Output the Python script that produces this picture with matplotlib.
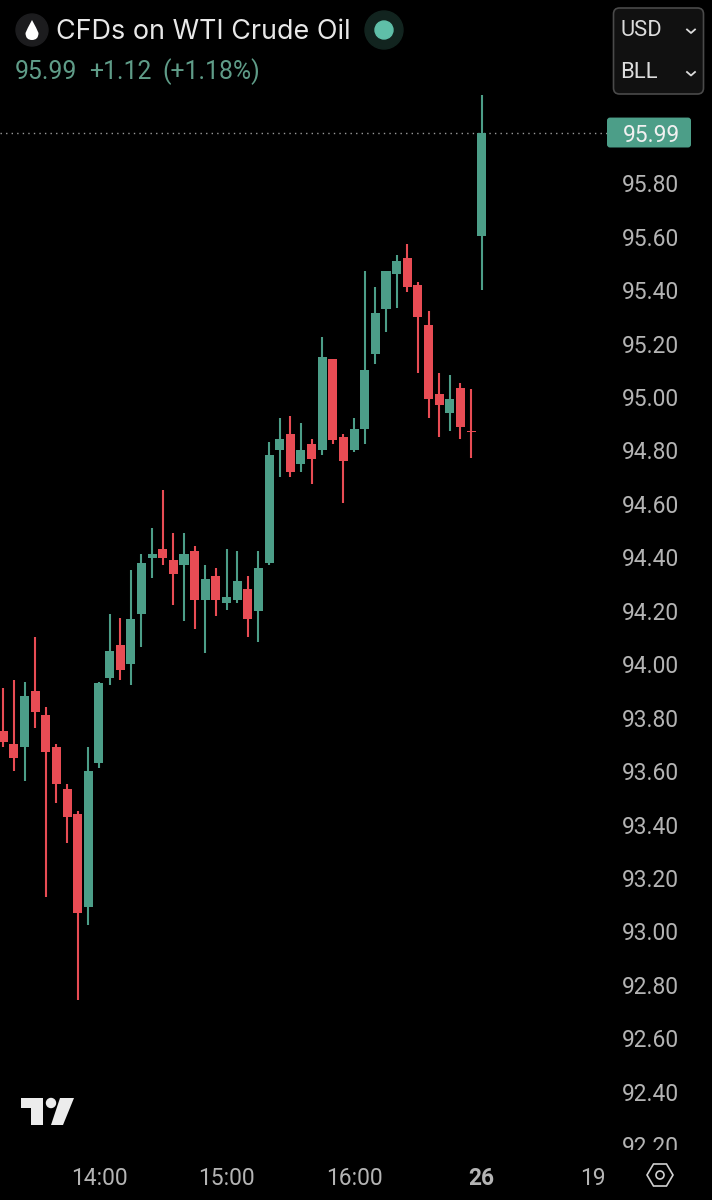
import matplotlib
matplotlib.use("Agg")
import matplotlib.pyplot as plt
from matplotlib.patches import Circle, FancyBboxPatch, Polygon, PathPatch
from matplotlib.path import Path
from matplotlib.transforms import Bbox, blended_transform_factory

# ===============================
# DATA
# ===============================

opens = [93.750, 93.700, 93.690, 93.901, 93.810, 93.691, 93.532, 93.441, 93.090, 93.629,
         93.949, 94.072, 94.000, 94.189, 94.399, 94.431, 94.391, 94.370, 94.423, 94.240,
         94.331, 94.229, 94.240, 94.281, 94.200, 94.380, 94.801, 94.862, 94.749, 94.823,
         94.801, 95.142, 94.850, 94.802, 94.880, 95.161, 95.330, 95.459, 95.521, 95.420,
         95.269, 95.011, 94.940, 95.033, 94.874, 95.603]
highs = [93.910, 93.940, 93.932, 94.103, 93.841, 93.700, 93.552, 93.451, 93.691, 93.932,
         94.188, 94.173, 94.353, 94.412, 94.511, 94.652, 94.490, 94.490, 94.442, 94.371,
         94.359, 94.431, 94.424, 94.330, 94.424, 94.830, 94.920, 94.929, 94.902, 94.842,
         95.223, 95.142, 94.860, 94.923, 95.473, 95.413, 95.472, 95.531, 95.571, 95.432,
         95.321, 95.091, 95.081, 95.051, 95.031, 96.130]
lows = [93.691, 93.600, 93.562, 93.762, 93.130, 93.482, 93.332, 92.743, 93.023, 93.613,
        93.922, 93.941, 93.922, 94.063, 94.321, 94.372, 94.222, 94.162, 94.131, 94.041,
        94.182, 94.203, 94.230, 94.103, 94.082, 94.372, 94.702, 94.702, 94.720, 94.673,
        94.783, 94.824, 94.602, 94.793, 94.824, 95.124, 95.243, 95.334, 95.393, 95.091,
        94.923, 94.851, 94.872, 94.843, 94.772, 95.400]
closes = [93.709, 93.650, 93.881, 93.820, 93.670, 93.552, 93.429, 93.069, 93.600, 93.931,
          94.051, 93.978, 94.170, 94.380, 94.412, 94.399, 94.339, 94.411, 94.240, 94.320,
          94.240, 94.253, 94.311, 94.169, 94.360, 94.782, 94.842, 94.719, 94.802, 94.769,
          95.151, 94.840, 94.760, 94.881, 95.101, 95.313, 95.472, 95.510, 95.411, 95.299,
          94.991, 94.971, 94.991, 94.889, 94.868, 95.990]

price_ticks = [92.2, 92.4, 92.6, 92.8, 93.0, 93.2, 93.4, 93.6, 93.8, 94.0,
               94.2, 94.4, 94.6, 94.8, 95.0, 95.2, 95.4, 95.6, 95.8]
time_ticks = [9, 21, 33, 45, 55.5]
time_labels = ["14:00", "15:00", "16:00", "26", "19"]

last_price = 95.99
title_text = "CFDs on WTI Crude Oil"
change_price = "95.99"
change_abs = "+1.12"
change_pct = "(+1.18%)"

# ===============================
# STYLE
# ===============================

GREEN = "#4c9e88"
RED = "#e84c54"
TICK_COLOR = "#b4b4b4"
WIDTH, HEIGHT = 712, 1200
CHART_RIGHT, CHART_BOTTOM = 607, 1150

# Roboto has equal width digits, like the app font
plt.rcParams["font.family"] = ["Roboto", "DejaVu Sans"]

fig = plt.figure(figsize=(WIDTH / 100, HEIGHT / 100), dpi=100, facecolor="black")

# ===============================
# CANDLES
# ===============================

ax = fig.add_axes([0, (HEIGHT - CHART_BOTTOM) / HEIGHT, CHART_RIGHT / WIDTH, CHART_BOTTOM / HEIGHT])
ax.set_facecolor("black")
ax.set_xlim(-0.31, 56.79)
ax.set_ylim(92.182, 96.486)

xs = list(range(len(opens)))
colors = [GREEN if c >= o else RED for o, c in zip(opens, closes)]

ax.vlines(xs, lows, highs, colors=colors, linewidth=1.5, zorder=3)
ax.bar(xs, [abs(c - o) for o, c in zip(opens, closes)],
       bottom=[min(o, c) for o, c in zip(opens, closes)],
       width=0.85, color=colors, linewidth=0, zorder=4)

ax.axhline(last_price, color="#9a9a9a", linewidth=1.0, linestyle=(0, (1, 3)), zorder=2)

for side in ax.spines.values():
    side.set_visible(False)

ax.yaxis.tick_right()
ax.set_yticks(price_ticks)
ax.set_yticklabels([f"{p:.2f}" for p in price_ticks])
ax.tick_params(axis="y", length=0, pad=31.5, labelsize=16.4, labelcolor=TICK_COLOR)
for label in ax.get_yticklabels():
    label.set_ha("center")
    label.set_va("center_baseline")
    # bottom price label is cut off by the time axis
    label.set_clip_box(Bbox([[0, HEIGHT - CHART_BOTTOM], [WIDTH, HEIGHT]]))
    label.set_clip_on(True)

ax.set_xticks(time_ticks)
ax.set_xticklabels(time_labels)
ax.tick_params(axis="x", length=0, pad=12.5, labelsize=16.4, labelcolor=TICK_COLOR)
ax.get_xticklabels()[3].set_fontweight("bold")

# ===============================
# OVERLAY (header, buttons, logo)
# ===============================

ui = fig.add_axes([0, 0, 1, 1], facecolor="none")
ui.set_xlim(0, WIDTH)
ui.set_ylim(HEIGHT, 0)
ui.axis("off")

# oil drop icon
ui.add_patch(Circle((32, 30), 16, color="#1c1c1e"))
drop = Path([(32, 20), (37, 29), (38.5, 33), (38.5, 40), (32, 40), (25.5, 40), (25.5, 33), (27, 29), (32, 20)],
            [Path.MOVETO, Path.CURVE3, Path.CURVE3, Path.CURVE3, Path.CURVE3,
             Path.CURVE3, Path.CURVE3, Path.CURVE3, Path.CURVE3])
ui.add_patch(PathPatch(drop, facecolor="white", edgecolor="none"))

ui.text(56, 32, title_text, color="#e8e8e8", fontsize=19.4, va="center", ha="left", family=["Inter", "DejaVu Sans"])
ui.add_patch(Circle((384, 30), 19, color="#12241f"))
ui.add_patch(Circle((384, 30), 9, color="#5fbfa8"))

ui.text(15, 72, change_price, color="#5f9c88", fontsize=17.8, va="center", ha="left")
ui.text(89, 72, change_abs, color="#5f9c88", fontsize=17.8, va="center", ha="left")
ui.text(162, 72, change_pct, color="#5f9c88", fontsize=17.8, va="center", ha="left")

# currency / unit selector
ui.add_patch(FancyBboxPatch((613.5, 8), 90, 86, boxstyle="round,pad=0,rounding_size=6",
                            facecolor="#111111", edgecolor="#4a4a4a", linewidth=1.2, mutation_aspect=1))
for word, y in (("USD", 30.5), ("BLL", 73)):
    ui.text(620, y, word, color="#dcdcdc", fontsize=15.8, va="center", ha="left")
    ui.plot([687, 691, 695], [y - 1, y + 2.5, y - 1], color="#dcdcdc", linewidth=1.3)

# last price tag follows the price scale
tag_trans = blended_transform_factory(ui.transData, ax.transData)
ui.add_patch(FancyBboxPatch((607, last_price - 0.056), 84, 0.112, boxstyle="round,pad=0,rounding_size=3",
                            transform=tag_trans, facecolor=GREEN, edgecolor="none", mutation_aspect=1 / 267.2))
ui.text(651, last_price, f"{last_price:.2f}", transform=tag_trans, color="#f0f0f0",
        fontsize=16.4, va="center_baseline", ha="center")

# TradingView logo
ui.add_patch(Polygon([(20.5, 1098), (43, 1098), (43, 1125), (31, 1125), (31, 1108), (20.5, 1108)],
                     facecolor="#ececec", edgecolor="none"))
ui.add_patch(Circle((51, 1103), 4.5, color="#ececec"))
ui.add_patch(Polygon([(60, 1098), (74, 1098), (63, 1125), (51, 1125)], facecolor="#ececec", edgecolor="none"))

# settings hexagon
ui.add_patch(Polygon([(647, 1175), (653.5, 1164), (666.5, 1164), (673, 1175), (666.5, 1186), (653.5, 1186)],
                     facecolor="none", edgecolor="#d0d0d0", linewidth=1.2))
ui.add_patch(Circle((660, 1175), 4, facecolor="none", edgecolor="#d0d0d0", linewidth=1.2))

fig.savefig("out.png", dpi=100, facecolor="black")
